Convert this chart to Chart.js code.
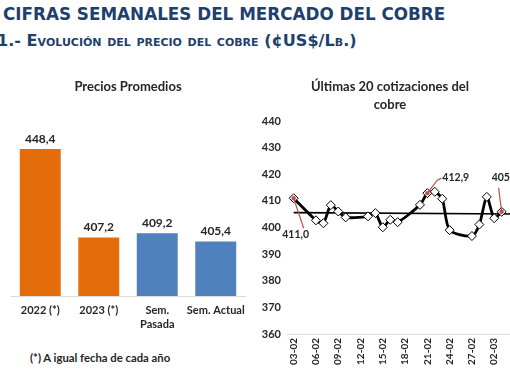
<!DOCTYPE html>
<html><head><meta charset="utf-8">
<script src="https://cdn.jsdelivr.net/npm/chart.js@4.4.0/dist/chart.umd.min.js"></script>
<style>
html,body{margin:0;padding:0;background:#fff;}
body{width:510px;height:382px;overflow:hidden;position:relative;}
#h1{position:absolute;left:3px;top:4px;font:bold 16.8px "DejaVu Sans";color:#1F3F6E;white-space:nowrap;}
#h2{position:absolute;left:-3px;top:31px;font:bold 16.1px "DejaVu Sans";font-variant:small-caps;color:#1F3F6E;white-space:nowrap;}
#foot{position:absolute;left:30px;top:351px;font:bold 11.3px Lato;color:#262626;white-space:nowrap;}
#c1{position:absolute;left:0;top:60px;}
#c2{position:absolute;left:258px;top:60px;}
</style></head>
<body>
<div id="h1">CIFRAS SEMANALES DEL MERCADO DEL COBRE</div>
<div id="h2">1.- Evolución del precio del cobre (¢US$/Lb.)</div>
<canvas id="c1" width="258" height="276"></canvas>
<canvas id="c2" width="264" height="314"></canvas>
<div id="foot">(*) A igual fecha de cada año</div>
<script>
// ---- data: average prices ----
const barCategories = ['2022 (*)', '2023 (*)', ['Sem.', 'Pasada'], 'Sem. Actual'];
const barValues = [448.4, 407.2, 409.2, 405.4];
const barColors = ['#E46C0A', '#E46C0A', '#4F81BD', '#4F81BD'];

// ---- data: last quotes ----
const quoteDates = ['03-02','06-02','07-02','08-02','09-02','10-02','13-02','14-02','15-02','16-02','17-02',
                    '20-02','21-02','22-02','23-02','24-02','27-02','28-02','01-03','02-03','03-03'];
const quoteValues = [411.0, 402.7, 401.6, 408.4, 406.0, 403.8, 404.2, 405.4, 400.1, 402.9, 402.0,
                     408.5, 412.9, 413.4, 410.8, 399.0, 396.8, 401.1, 411.5, 403.5, 405.9];
const refLineDates = ['03-02', '05-03'];
const refLineValues = [405.6, 405.1];
const tickDates = ['03-02','06-02','09-02','12-02','15-02','18-02','21-02','24-02','27-02','02-03','05-03'];
const labelledDates = ['03-02', '21-02', '03-03'];
const yearOfQuotes = 2023;

function dayIndex(s) {
  const [d, m] = s.split('-').map(Number);
  const [d0, m0] = quoteDates[0].split('-').map(Number);
  return Math.round((Date.UTC(yearOfQuotes, m - 1, d) - Date.UTC(yearOfQuotes, m0 - 1, d0)) / 86400000);
}
const fmt = v => v.toFixed(1).replace('.', ',');

// ---- left chart ----
const barLabelPlugin = {
  id: 'barLabels',
  afterDatasetsDraw(chart) {
    const ctx = chart.ctx;
    const meta = chart.getDatasetMeta(0);
    ctx.save();
    ctx.font = 'bold 12px Lato';
    ctx.fillStyle = '#262626';
    ctx.textAlign = 'center';
    ctx.textBaseline = 'bottom';
    meta.data.forEach((el, i) => ctx.fillText(fmt(barValues[i]), el.x, el.y - 4));
    ctx.restore();
  }
};

new Chart(document.getElementById('c1'), {
  type: 'bar',
  data: {
    labels: barCategories,
    datasets: [{ data: barValues, backgroundColor: barColors, barPercentage: 0.7, categoryPercentage: 1.0 }]
  },
  options: {
    responsive: false, animation: false, devicePixelRatio: 1,
    layout: { padding: { left: 11, right: 13, top: 0, bottom: 0 } },
    plugins: {
      legend: { display: false }, tooltip: { enabled: false },
      title: { display: true, text: 'Precios Promedios', color: '#262626',
               font: { family: 'Lato', size: 13, weight: 'bold', lineHeight: 1.2 },
               padding: { top: 19, bottom: 8 } }
    },
    scales: {
      y: { display: false, min: 380, max: 470 },
      x: {
        grid: { display: false, drawTicks: false },
        border: { display: true, color: '#D9D9D9', width: 1 },
        ticks: { color: '#262626', font: { family: 'Lato', size: 11, weight: 'bold', lineHeight: 1.25 },
                 padding: 8, maxRotation: 0, autoSkip: false },
        afterFit: s => { s.height = 40; }
      }
    }
  },
  plugins: [barLabelPlugin]
});

// ---- right chart ----
const quotePoints = quoteDates.map((d, i) => ({ x: dayIndex(d), y: quoteValues[i] }));
const refPoints = refLineDates.map((d, i) => ({ x: dayIndex(d), y: refLineValues[i] }));
const tickIdx = tickDates.map(dayIndex);

const leaderPlugin = {
  id: 'leaders',
  afterDatasetsDraw(chart) {
    const ctx = chart.ctx;
    const meta = chart.getDatasetMeta(1);
    const styles = {
      '03-02': { path: [[10, 30]], text: [2, 36], align: 'center' },
      '21-02': { path: [[10, -13], [14, -15]], text: [15, -16], align: 'left' },
      '03-03': { path: [[-3, -24]], text: [-10, -34], align: 'left' }
    };
    ctx.save();
    labelledDates.forEach(d => {
      const i = quoteDates.indexOf(d);
      const el = meta.data[i];
      const st = styles[d];
      ctx.strokeStyle = '#C0504D';
      ctx.lineWidth = 1.2;
      ctx.beginPath();
      ctx.moveTo(el.x, el.y);
      st.path.forEach(p => ctx.lineTo(el.x + p[0], el.y + p[1]));
      ctx.stroke();
      ctx.fillStyle = '#C0504D';
      ctx.beginPath(); ctx.arc(el.x, el.y, 2.2, 0, Math.PI * 2); ctx.fill();
      ctx.font = 'bold 10.5px Lato';
      ctx.fillStyle = '#262626';
      ctx.textAlign = st.align;
      ctx.textBaseline = 'middle';
      ctx.fillText(fmt(quoteValues[i]), el.x + st.text[0], el.y + st.text[1]);
    });
    ctx.restore();
  }
};

new Chart(document.getElementById('c2'), {
  type: 'line',
  data: {
    datasets: [
      { data: refPoints, borderColor: '#000', borderWidth: 1.6, pointRadius: 0, order: 2 },
      { data: quotePoints, borderColor: '#000', borderWidth: 2.8, tension: 0.25,
        pointStyle: 'rectRot', pointRadius: 4.5, pointBackgroundColor: '#fff',
        pointBorderColor: '#000', pointBorderWidth: 1, order: 1, clip: false }
    ]
  },
  options: {
    responsive: false, animation: false, devicePixelRatio: 1,
    layout: { padding: { left: 0, right: 0, top: 0, bottom: 0 } },
    plugins: {
      legend: { display: false }, tooltip: { enabled: false },
      title: { display: true, text: ['Últimas 20 cotizaciones del', 'cobre'], color: '#262626',
               font: { family: 'Lato', size: 13, weight: 'bold', lineHeight: 1.385 },
               padding: { top: 18, bottom: 7 } }
    },
    scales: {
      y: {
        min: 360, max: 440,
        grid: { display: false, drawTicks: false }, border: { display: false },
        ticks: { stepSize: 10, color: '#262626', font: { family: 'Lato', size: 11, weight: 'bold' }, padding: 6 },
        afterFit: s => { s.width = 29; }
      },
      x: {
        type: 'linear', min: -0.9, max: 30,
        grid: { display: false, drawTicks: false },
        border: { display: true, color: '#D9D9D9', width: 1 },
        afterBuildTicks: s => { s.ticks = tickIdx.map(v => ({ value: v })); },
        ticks: {
          minRotation: 90, maxRotation: 90, autoSkip: false, padding: 4,
          color: '#262626', font: { family: 'Lato', size: 10, weight: 'bold' },
          callback: v => { const k = tickIdx.indexOf(v); return k >= 0 ? tickDates[k] : ''; }
        },
        afterFit: s => { s.height = 40; s.paddingLeft = 0; s.paddingRight = 0; }
      }
    }
  },
  plugins: [leaderPlugin]
});
</script>
</body></html>
